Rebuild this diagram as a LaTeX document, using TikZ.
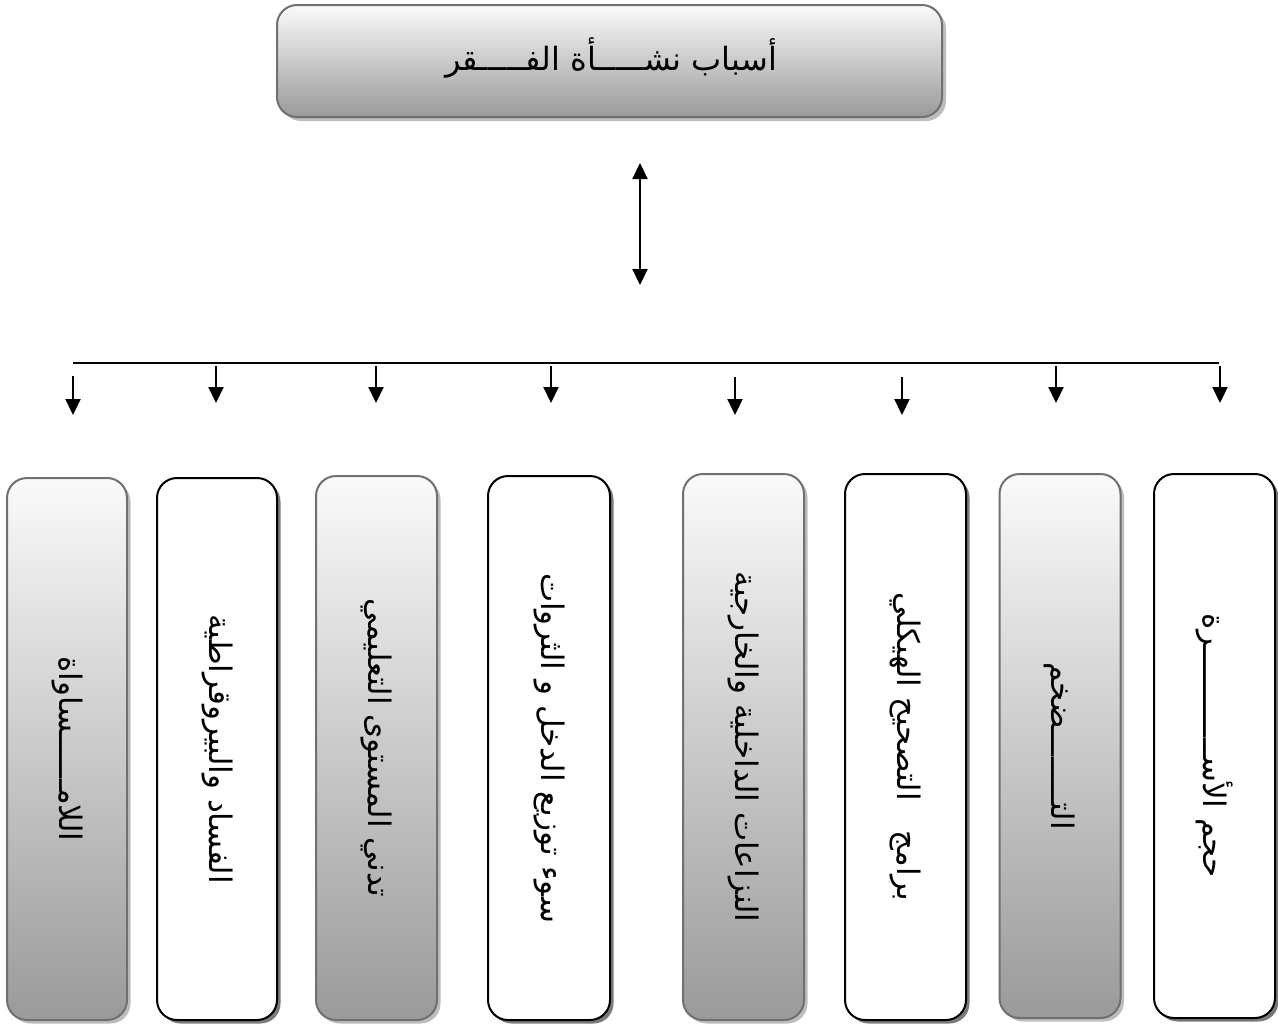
\documentclass[tikz,border=0pt]{standalone}
\usepackage{fontspec}
\usetikzlibrary{arrows.meta,shadows}
\newfontfamily\arabicfont[Script=Arabic]{DejaVu Sans}
\TeXXeTstate=1
\definecolor{bordergray}{HTML}{707070}
\definecolor{shadelight}{HTML}{FAFAFA}
\definecolor{shadedark}{HTML}{9A9A9A}
\definecolor{shadowlight}{HTML}{BDBDBD}
\definecolor{shadowdark}{HTML}{7A7A7A}
\tikzset{
  graybox/.style={draw=bordergray, line width=2pt, rounded corners=20pt,
    top color=shadelight, bottom color=shadedark, inner sep=0pt,
    drop shadow={shadow xshift=3.5pt, shadow yshift=-3.5pt, fill=shadowlight, opacity=1}},
  whitebox/.style={draw=black, line width=2pt, rounded corners=20pt, fill=white, inner sep=0pt,
    drop shadow={shadow xshift=3.5pt, shadow yshift=-3.5pt, fill=shadowdark, opacity=1}},
  titlebox/.style={draw=bordergray, line width=2pt, rounded corners=20pt,
    top color=shadelight, bottom color=shadedark, inner sep=0pt,
    drop shadow={shadow xshift=4pt, shadow yshift=-4pt, fill=shadowlight, opacity=1}},
  vlabel/.style={rotate=-90, font=\arabicfont\fontsize{31}{36}\selectfont, inner sep=0pt},
  tlabel/.style={font=\arabicfont\fontsize{32}{38}\selectfont, inner sep=0pt},
  arr/.style={line width=2.2pt, -{Triangle[width=15pt,length=16pt]}},
  darr/.style={line width=2.2pt, {Triangle[width=15pt,length=16pt]}-{Triangle[width=15pt,length=16pt]}},
  hline/.style={line width=2pt}
}
\begin{document}
\begin{tikzpicture}[x=1pt,y=-1pt]
\useasboundingbox (0,0) rectangle (1278,1028);
% title
\node[titlebox, minimum width=665pt, minimum height=112pt] (title) at (609.5,61) {};
\node[tlabel] (titletext) at (611,58) {\beginR أسباب نشـــــأة الفـــــقر\endR};
% double arrow
\coordinate (dtop) at (640,163);
\coordinate (dbot) at (640,285);
\draw[darr] (dtop) -- (dbot);
% horizontal line
\coordinate (hl) at (73,363);
\coordinate (hr) at (1219,363);
\draw[hline] (hl) -- (hr);
% arrows
\foreach \i/\x/\ya/\yb in {1/73/376/415, 2/216/366/403, 3/376/366/403, 4/551/366/403,
                           5/735/377/415, 6/902/377/415, 7/1056/366/403, 8/1220/366/403} {
  \coordinate (s\i) at (\x,\ya);
  \coordinate (e\i) at (\x,\yb);
  \draw[arr] (s\i) -- (e\i);
}
% boxes
\node[graybox, minimum width=120pt, minimum height=542pt] (b1) at (67,749) {};
\node[whitebox, minimum width=120pt, minimum height=542pt] (b2) at (217,749) {};
\node[graybox, minimum width=121pt, minimum height=544pt] (b3) at (376.5,748) {};
\node[whitebox, minimum width=122pt, minimum height=544pt] (b4) at (549,748) {};
\node[graybox, minimum width=121pt, minimum height=546pt] (b5) at (743.5,747) {};
\node[whitebox, minimum width=121pt, minimum height=546pt] (b6) at (905.5,747) {};
\node[graybox, minimum width=121pt, minimum height=544pt] (b7) at (1060,746) {};
\node[whitebox, minimum width=121pt, minimum height=544pt] (b8) at (1214.5,746) {};
% labels
\node[vlabel] (t1) at (b1.center) {\beginR اللامــــــساواة\endR};
\node[vlabel] (t2) at (b2.center) {\beginR الفساد والبيروقراطية\endR};
\node[vlabel] (t3) at (b3.center) {\beginR تدني المستوى التعليمي\endR};
\node[vlabel] (t4) at (b4.center) {\beginR سوء توزيع الدخل و الثروات\endR};
\node[vlabel] (t5) at (b5.center) {\beginR النزاعات الداخلية والخارجية\endR};
\node[vlabel] (t6) at (b6.center) {\beginR برامج \ \ التصحيح الهيكلي\endR};
\node[vlabel] (t7) at (b7.center) {\beginR التــــــــضخم\endR};
\node[vlabel] (t8) at (b8.center) {\beginR حجم الأســــــــــــرة\endR};
\end{tikzpicture}
\end{document}
